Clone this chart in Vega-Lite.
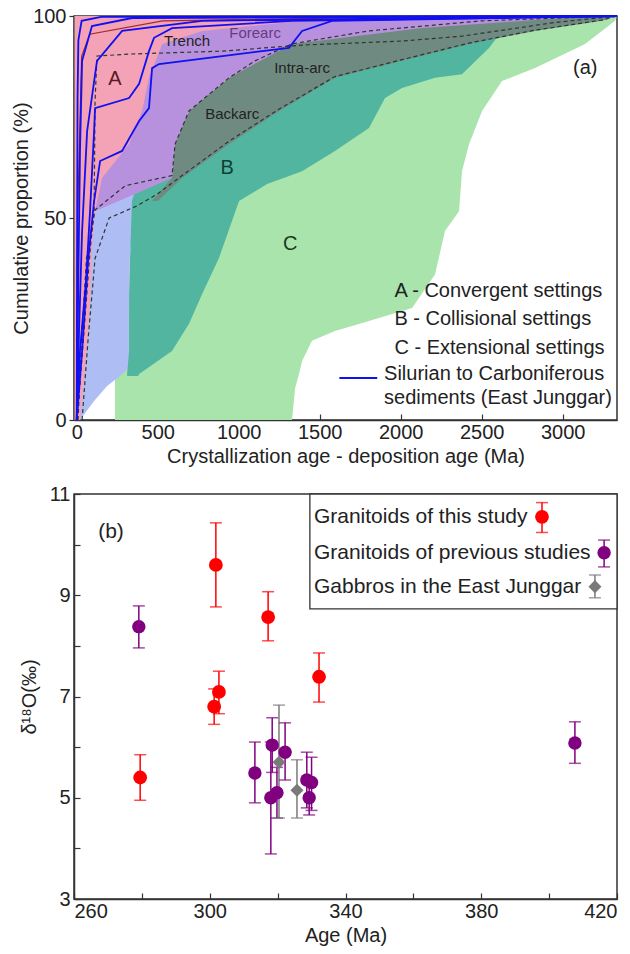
{
  "$schema": "https://vega.github.io/schema/vega-lite/v6.json",
  "padding": {"left": 10, "top": 5, "right": 0, "bottom": 5},
  "spacing": 16,
  "resolve": {"scale": {"color": "independent", "shape": "independent", "size": "independent"}},
  "config": {
    "font": "Liberation Sans",
    "view": {"stroke": "#333", "strokeWidth": 1.5},
    "axis": {"grid": false, "labelFontSize": 20, "titleFontSize": 20, "titleFontWeight": "normal", "labelColor": "#222", "titleColor": "#222", "domainColor": "#333", "tickColor": "#333", "domainWidth": 1.5, "tickWidth": 1.2}
  },
  "datasets": {
    "regC": [
      {"y": 0, "xl": 236, "xr": 1329}, {"y": 7.9, "xl": 236, "xr": 1348}, {"y": 11.4, "xl": 236, "xr": 1372},
      {"y": 14.6, "xl": 255, "xr": 1391}, {"y": 19.6, "xl": 280, "xr": 1452}, {"y": 22.0, "xl": 298, "xr": 1594},
      {"y": 24.5, "xl": 317, "xr": 1804}, {"y": 27.7, "xl": 329, "xr": 2070}, {"y": 36.1, "xl": 341, "xr": 2212},
      {"y": 46.8, "xl": 372, "xr": 2273}, {"y": 51.7, "xl": 403, "xr": 2360}, {"y": 61.6, "xl": 527, "xr": 2378},
      {"y": 68.3, "xl": 650, "xr": 2422}, {"y": 76.5, "xl": 897, "xr": 2502}, {"y": 83.9, "xl": 1391, "xr": 2625},
      {"y": 87.1, "xl": 1700, "xr": 2829}, {"y": 93.1, "xl": 2132, "xr": 3138}, {"y": 98.8, "xl": 2625, "xr": 3323},
      {"y": 100, "xl": 3243, "xr": 3335}
    ],
    "regL": [
      {"y": 0, "xl": -10, "xr": 20}, {"y": 4.7, "xl": 2, "xr": 107}, {"y": 8.4, "xl": 8, "xr": 187},
      {"y": 10.9, "xl": 14, "xr": 267}, {"y": 12.9, "xl": 14, "xr": 323}, {"y": 29.5, "xl": 33, "xr": 323},
      {"y": 41.8, "xl": 82, "xr": 329}, {"y": 54.2, "xl": 113, "xr": 372}, {"y": 59.9, "xl": 156, "xr": 465},
      {"y": 64.1, "xl": 218, "xr": 527}
    ],
    "regB": [
      {"y": 10.9, "xl": 311, "xr": 380}, {"y": 11.4, "xl": 311, "xr": 385}, {"y": 17.1, "xl": 323, "xr": 588},
      {"y": 23.8, "xl": 323, "xr": 693}, {"y": 31.2, "xl": 323, "xr": 774}, {"y": 40.1, "xl": 329, "xr": 878},
      {"y": 54.2, "xl": 341, "xr": 1002}, {"y": 58.4, "xl": 372, "xr": 1175}, {"y": 61.6, "xl": 434, "xr": 1391},
      {"y": 66.6, "xl": 527, "xr": 1594}, {"y": 72.3, "xl": 620, "xr": 1804}, {"y": 79.7, "xl": 774, "xr": 1903},
      {"y": 82.2, "xl": 866, "xr": 2008}, {"y": 84.7, "xl": 1020, "xr": 2212}, {"y": 85.6, "xl": 1144, "xr": 2378},
      {"y": 92.1, "xl": 1514, "xr": 2545}, {"y": 96.3, "xl": 2008, "xr": 2625}, {"y": 99.3, "xl": 2625, "xr": 2872},
      {"y": 100, "xl": 3243, "xr": 3335}
    ],
    "regG": [
      {"y": 54.2, "xl": 465, "xr": 500}, {"y": 59.9, "xl": 588, "xr": 650}, {"y": 68.3, "xl": 607, "xr": 940},
      {"y": 76.5, "xl": 693, "xr": 1250}, {"y": 84.7, "xl": 940, "xr": 1594}, {"y": 88.9, "xl": 1100, "xr": 2008},
      {"y": 93.1, "xl": 1329, "xr": 2422}, {"y": 96.3, "xl": 1800, "xr": 2829}, {"y": 98.8, "xl": 2500, "xr": 3243},
      {"y": 100, "xl": 3300, "xr": 3335}
    ],
    "regP": [
      {"y": 51.7, "xl": 100, "xr": 113}, {"y": 59.9, "xl": 150, "xr": 588}, {"y": 68.3, "xl": 300, "xr": 607},
      {"y": 76.5, "xl": 400, "xr": 693}, {"y": 84.7, "xl": 440, "xr": 940}, {"y": 93.1, "xl": 520, "xr": 1329},
      {"y": 97.0, "xl": 700, "xr": 2132}, {"y": 99.3, "xl": 1300, "xr": 2934}, {"y": 100, "xl": 3243, "xr": 3335}
    ],
    "regA": [
      {"y": 0, "xl": -14, "xr": 20}, {"y": 9.7, "xl": -14, "xr": 45}, {"y": 22, "xl": -14, "xr": 70},
      {"y": 29.5, "xl": -14, "xr": 82}, {"y": 41.8, "xl": -14, "xr": 94}, {"y": 51.7, "xl": -14, "xr": 113},
      {"y": 59.9, "xl": -14, "xr": 156}, {"y": 68.3, "xl": -14, "xr": 323}, {"y": 76.5, "xl": -14, "xr": 403},
      {"y": 84.7, "xl": -14, "xr": 446}, {"y": 93.1, "xl": -14, "xr": 527}, {"y": 96.3, "xl": -14, "xr": 774},
      {"y": 98.8, "xl": -14, "xr": 1391}, {"y": 100, "xl": -14, "xr": 3335}
    ],
    "lnA": [
      {"id": "b1", "kind": "blue", "x": 0, "y": 0}, {"id": "b1", "kind": "blue", "x": 2, "y": 40}, {"id": "b1", "kind": "blue", "x": 5, "y": 80}, {"id": "b1", "kind": "blue", "x": 10, "y": 94}, {"id": "b1", "kind": "blue", "x": 30, "y": 98.8}, {"id": "b1", "kind": "blue", "x": 150, "y": 99.8}, {"id": "b1", "kind": "blue", "x": 3335, "y": 100},
      {"id": "b2", "kind": "blue", "x": 0, "y": 0}, {"id": "b2", "kind": "blue", "x": 8, "y": 29.5}, {"id": "b2", "kind": "blue", "x": 20, "y": 66.6}, {"id": "b2", "kind": "blue", "x": 33, "y": 88.9}, {"id": "b2", "kind": "blue", "x": 94, "y": 97.5}, {"id": "b2", "kind": "blue", "x": 341, "y": 99.5}, {"id": "b2", "kind": "blue", "x": 3335, "y": 100},
      {"id": "b3", "kind": "blue", "x": 0, "y": 0}, {"id": "b3", "kind": "blue", "x": 14, "y": 22}, {"id": "b3", "kind": "blue", "x": 33, "y": 46.8}, {"id": "b3", "kind": "blue", "x": 64, "y": 71.5}, {"id": "b3", "kind": "blue", "x": 125, "y": 88.9}, {"id": "b3", "kind": "blue", "x": 280, "y": 96.3}, {"id": "b3", "kind": "blue", "x": 774, "y": 98.8}, {"id": "b3", "kind": "blue", "x": 3335, "y": 100},
      {"id": "b4", "kind": "blue", "x": 0, "y": 0}, {"id": "b4", "kind": "blue", "x": 20, "y": 17.1}, {"id": "b4", "kind": "blue", "x": 57, "y": 34.4}, {"id": "b4", "kind": "blue", "x": 82, "y": 51.7}, {"id": "b4", "kind": "blue", "x": 107, "y": 71.5}, {"id": "b4", "kind": "blue", "x": 113, "y": 77.2}, {"id": "b4", "kind": "blue", "x": 323, "y": 79.7}, {"id": "b4", "kind": "blue", "x": 385, "y": 83.2}, {"id": "b4", "kind": "blue", "x": 446, "y": 91.3}, {"id": "b4", "kind": "blue", "x": 477, "y": 94.6}, {"id": "b4", "kind": "blue", "x": 588, "y": 97}, {"id": "b4", "kind": "blue", "x": 1329, "y": 98.8}, {"id": "b4", "kind": "blue", "x": 3335, "y": 100},
      {"id": "b5", "kind": "blue", "x": 0, "y": 0}, {"id": "b5", "kind": "blue", "x": 33, "y": 17.1}, {"id": "b5", "kind": "blue", "x": 70, "y": 39.4}, {"id": "b5", "kind": "blue", "x": 107, "y": 54.2}, {"id": "b5", "kind": "blue", "x": 144, "y": 64.1}, {"id": "b5", "kind": "blue", "x": 280, "y": 66.6}, {"id": "b5", "kind": "blue", "x": 385, "y": 74}, {"id": "b5", "kind": "blue", "x": 446, "y": 77.2}, {"id": "b5", "kind": "blue", "x": 465, "y": 87.1}, {"id": "b5", "kind": "blue", "x": 508, "y": 88.1}, {"id": "b5", "kind": "blue", "x": 1144, "y": 91.3}, {"id": "b5", "kind": "blue", "x": 1310, "y": 92.1}, {"id": "b5", "kind": "blue", "x": 1391, "y": 96.3}, {"id": "b5", "kind": "blue", "x": 1576, "y": 98.8}, {"id": "b5", "kind": "blue", "x": 3335, "y": 100},
      {"id": "leg", "kind": "blue", "x": 1621, "y": 10.4}, {"id": "leg", "kind": "blue", "x": 1855, "y": 10.4},
      {"id": "r1", "kind": "red", "x": 0, "y": 0}, {"id": "r1", "kind": "red", "x": 5, "y": 50}, {"id": "r1", "kind": "red", "x": 30, "y": 90}, {"id": "r1", "kind": "red", "x": 80, "y": 95.5}, {"id": "r1", "kind": "red", "x": 530, "y": 98.8}, {"id": "r1", "kind": "red", "x": 1640, "y": 99.5}, {"id": "r1", "kind": "red", "x": 3335, "y": 100},
      {"id": "d1", "kind": "dash", "x": 2, "y": 0}, {"id": "d1", "kind": "dash", "x": 45, "y": 22}, {"id": "d1", "kind": "dash", "x": 82, "y": 41.8}, {"id": "d1", "kind": "dash", "x": 107, "y": 51.7}, {"id": "d1", "kind": "dash", "x": 113, "y": 79}, {"id": "d1", "kind": "dash", "x": 125, "y": 90.1}, {"id": "d1", "kind": "dash", "x": 341, "y": 90.6}, {"id": "d1", "kind": "dash", "x": 897, "y": 91.3}, {"id": "d1", "kind": "dash", "x": 1391, "y": 92.8}, {"id": "d1", "kind": "dash", "x": 2008, "y": 93.8}, {"id": "d1", "kind": "dash", "x": 2378, "y": 95}, {"id": "d1", "kind": "dash", "x": 2934, "y": 98.3}, {"id": "d1", "kind": "dash", "x": 3335, "y": 100},
      {"id": "d2", "kind": "dash", "x": 33, "y": 0}, {"id": "d2", "kind": "dash", "x": 70, "y": 20}, {"id": "d2", "kind": "dash", "x": 113, "y": 40}, {"id": "d2", "kind": "dash", "x": 200, "y": 50}, {"id": "d2", "kind": "dash", "x": 372, "y": 53}, {"id": "d2", "kind": "dash", "x": 500, "y": 56}, {"id": "d2", "kind": "dash", "x": 650, "y": 60.5}, {"id": "d2", "kind": "dash", "x": 940, "y": 69}, {"id": "d2", "kind": "dash", "x": 1250, "y": 77}, {"id": "d2", "kind": "dash", "x": 1594, "y": 85}, {"id": "d2", "kind": "dash", "x": 2008, "y": 89.2}, {"id": "d2", "kind": "dash", "x": 2422, "y": 93.3}, {"id": "d2", "kind": "dash", "x": 2829, "y": 96.5}, {"id": "d2", "kind": "dash", "x": 3243, "y": 99}, {"id": "d2", "kind": "dash", "x": 3335, "y": 100},
      {"id": "d3", "kind": "dash", "x": 8, "y": 0}, {"id": "d3", "kind": "dash", "x": 30, "y": 20}, {"id": "d3", "kind": "dash", "x": 60, "y": 40}, {"id": "d3", "kind": "dash", "x": 113, "y": 52}, {"id": "d3", "kind": "dash", "x": 300, "y": 58}, {"id": "d3", "kind": "dash", "x": 588, "y": 60.5}, {"id": "d3", "kind": "dash", "x": 607, "y": 68.3}, {"id": "d3", "kind": "dash", "x": 693, "y": 76.5}, {"id": "d3", "kind": "dash", "x": 940, "y": 84.7}, {"id": "d3", "kind": "dash", "x": 1100, "y": 88.9}, {"id": "d3", "kind": "dash", "x": 1329, "y": 93.1}, {"id": "d3", "kind": "dash", "x": 1800, "y": 96.3}, {"id": "d3", "kind": "dash", "x": 2500, "y": 98.8}, {"id": "d3", "kind": "dash", "x": 3335, "y": 100}
    ],
    "txA": [
      {"g": "big", "c": "A", "x": 236, "y": 84.4, "t": "A"},
      {"g": "big", "c": "B", "x": 929, "y": 62.4, "t": "B"},
      {"g": "big", "c": "C", "x": 1317, "y": 43.6, "t": "C"},
      {"g": "big", "c": "N", "x": 3139, "y": 87.1, "t": "(a)"},
      {"g": "small", "c": "N", "x": 681, "y": 93.8, "t": "Trench"},
      {"g": "small", "c": "F", "x": 1101, "y": 95.8, "t": "Forearc"},
      {"g": "small", "c": "N", "x": 1391, "y": 87.1, "t": "Intra-arc"},
      {"g": "small", "c": "N", "x": 960, "y": 75.7, "t": "Backarc"},
      {"g": "leg", "c": "N", "x": 1961, "y": 31.9, "t": "A - Convergent settings"},
      {"g": "leg", "c": "N", "x": 1961, "y": 25.0, "t": "B - Collisional settings"},
      {"g": "leg", "c": "N", "x": 1961, "y": 17.8, "t": "C - Extensional settings"},
      {"g": "leg", "c": "N", "x": 1897, "y": 11.4, "t": "Silurian to Carboniferous"},
      {"g": "leg", "c": "N", "x": 1897, "y": 5.4, "t": "sediments (East Junggar)"}
    ],
    "pts": [
      {"grp": "this", "age": 279.5, "d": 5.4, "lo": 4.95, "hi": 5.85},
      {"grp": "this", "age": 301.8, "d": 9.6, "lo": 8.77, "hi": 10.43},
      {"grp": "this", "age": 317.2, "d": 8.57, "lo": 8.1, "hi": 9.07},
      {"grp": "this", "age": 302.7, "d": 7.09, "lo": 6.66, "hi": 7.5},
      {"grp": "this", "age": 301.3, "d": 6.8, "lo": 6.45, "hi": 7.15},
      {"grp": "this", "age": 332.2, "d": 7.39, "lo": 6.89, "hi": 7.86},
      {"grp": "prev", "age": 279.1, "d": 8.38, "lo": 7.96, "hi": 8.79},
      {"grp": "prev", "age": 407.6, "d": 6.08, "lo": 5.68, "hi": 6.5},
      {"grp": "prev", "age": 313.3, "d": 5.49, "lo": 4.9, "hi": 6.1},
      {"grp": "prev", "age": 318.4, "d": 6.04, "lo": 5.5, "hi": 6.58},
      {"grp": "prev", "age": 318.0, "d": 5.0, "lo": 3.89, "hi": 6.1},
      {"grp": "prev", "age": 322.2, "d": 5.9, "lo": 5.35, "hi": 6.48},
      {"grp": "prev", "age": 319.8, "d": 5.1, "lo": 4.6, "hi": 5.6},
      {"grp": "prev", "age": 328.6, "d": 5.35, "lo": 4.8, "hi": 5.9},
      {"grp": "prev", "age": 330.0, "d": 5.3, "lo": 4.75, "hi": 5.8},
      {"grp": "prev", "age": 329.3, "d": 5.0, "lo": 4.66, "hi": 5.4},
      {"grp": "gabbro", "age": 320.4, "d": 5.7, "lo": 4.6, "hi": 6.83},
      {"grp": "gabbro", "age": 325.7, "d": 5.15, "lo": 4.6, "hi": 5.75},
      {"grp": "this", "age": 397.9, "d": 10.55, "lo": 10.24, "hi": 10.83},
      {"grp": "prev", "age": 416.2, "d": 9.84, "lo": 9.56, "hi": 10.09},
      {"grp": "gabbro", "age": 413.5, "d": 9.17, "lo": 8.95, "hi": 9.4}
    ],
    "boxB": [{"x": 329.5, "x2": 420, "y": 8.73, "y2": 11}],
    "txB": [
      {"g": "leg", "age": 330.7, "d": 10.55, "t": "Granitoids of this study"},
      {"g": "leg", "age": 330.7, "d": 9.84, "t": "Granitoids of previous studies"},
      {"g": "leg", "age": 330.7, "d": 9.17, "t": "Gabbros in the East Junggar"},
      {"g": "tag", "age": 270.9, "d": 10.25, "t": "(b)"}
    ]
  },
  "vconcat": [
    {
      "width": 543,
      "height": 404,
      "layer": [
        {
          "data": {"name": "regC"},
          "mark": {"type": "area", "orient": "horizontal", "color": "#a9e4ad"},
          "encoding": {
            "y": {"field": "y", "type": "quantitative", "scale": {"domain": [0, 100], "nice": false}, "axis": {"title": "Cumulative proportion (%)", "values": [0, 50, 100], "tickSize": 5, "labelPadding": 3, "titlePadding": 1}},
            "x": {"field": "xl", "type": "quantitative", "scale": {"domain": [-17, 3335], "nice": false}, "axis": {"title": "Crystallization age - deposition age (Ma)", "values": [0, 500, 1000, 1500, 2000, 2500, 3000], "format": "d", "tickSize": -6, "labelPadding": 8, "titlePadding": 4}},
            "x2": {"field": "xr"}
          }
        },
        {"data": {"name": "regL"}, "mark": {"type": "area", "orient": "horizontal", "color": "#aebdf4"},
          "encoding": {"y": {"field": "y", "type": "quantitative"}, "x": {"field": "xl", "type": "quantitative"}, "x2": {"field": "xr"}}},
        {"data": {"name": "regB"}, "mark": {"type": "area", "orient": "horizontal", "color": "#52b59f"},
          "encoding": {"y": {"field": "y", "type": "quantitative"}, "x": {"field": "xl", "type": "quantitative"}, "x2": {"field": "xr"}}},
        {"data": {"name": "regG"}, "mark": {"type": "area", "orient": "horizontal", "color": "#6f8a80"},
          "encoding": {"y": {"field": "y", "type": "quantitative"}, "x": {"field": "xl", "type": "quantitative"}, "x2": {"field": "xr"}}},
        {"data": {"name": "regP"}, "mark": {"type": "area", "orient": "horizontal", "color": "#b891de"},
          "encoding": {"y": {"field": "y", "type": "quantitative"}, "x": {"field": "xl", "type": "quantitative"}, "x2": {"field": "xr"}}},
        {"data": {"name": "regA"}, "mark": {"type": "area", "orient": "horizontal", "color": "#f3a3b5"},
          "encoding": {"y": {"field": "y", "type": "quantitative"}, "x": {"field": "xl", "type": "quantitative"}, "x2": {"field": "xr"}}},
        {"data": {"name": "lnA"}, "transform": [{"filter": "datum.kind == 'dash'"}],
          "mark": {"type": "line", "color": "#333", "strokeWidth": 1.2, "strokeDash": [4, 3]},
          "encoding": {"x": {"field": "x", "type": "quantitative"}, "y": {"field": "y", "type": "quantitative"}, "detail": {"field": "id"}}},
        {"data": {"name": "lnA"}, "transform": [{"filter": "datum.kind == 'red'"}],
          "mark": {"type": "line", "color": "#a52a2a", "strokeWidth": 1.2},
          "encoding": {"x": {"field": "x", "type": "quantitative"}, "y": {"field": "y", "type": "quantitative"}, "detail": {"field": "id"}}},
        {"data": {"name": "lnA"}, "transform": [{"filter": "datum.kind == 'blue'"}],
          "mark": {"type": "line", "color": "#1010f0", "strokeWidth": 1.8},
          "encoding": {"x": {"field": "x", "type": "quantitative"}, "y": {"field": "y", "type": "quantitative"}, "detail": {"field": "id"}}},
        {"data": {"name": "txA"}, "transform": [{"filter": "datum.g == 'big'"}],
          "mark": {"type": "text", "fontSize": 20},
          "encoding": {"x": {"field": "x", "type": "quantitative"}, "y": {"field": "y", "type": "quantitative"}, "text": {"field": "t"},
            "color": {"field": "c", "type": "nominal", "scale": {"domain": ["A", "B", "C", "N", "F"], "range": ["#5a1a1f", "#0f3f35", "#1a3a1a", "#222222", "#6a3a80"]}, "legend": null}}},
        {"data": {"name": "txA"}, "transform": [{"filter": "datum.g == 'small'"}],
          "mark": {"type": "text", "fontSize": 15},
          "encoding": {"x": {"field": "x", "type": "quantitative"}, "y": {"field": "y", "type": "quantitative"}, "text": {"field": "t"},
            "color": {"field": "c", "type": "nominal", "legend": null}}},
        {"data": {"name": "txA"}, "transform": [{"filter": "datum.g == 'leg'"}],
          "mark": {"type": "text", "fontSize": 20, "align": "left", "color": "#222"},
          "encoding": {"x": {"field": "x", "type": "quantitative"}, "y": {"field": "y", "type": "quantitative"}, "text": {"field": "t"}}}
      ]
    },
    {
      "width": 543,
      "height": 405,
      "layer": [
        {
          "data": {"name": "boxB"},
          "mark": {"type": "rect", "fill": "white", "stroke": "#333", "strokeWidth": 1.3},
          "encoding": {
            "x": {"field": "x", "type": "quantitative", "scale": {"domain": [260, 420], "nice": false}, "axis": {"title": "Age (Ma)", "values": [260, 280, 300, 320, 340, 360, 380, 400, 420], "labelExpr": "(datum.value - 260) % 40 == 0 ? datum.label : ''", "tickSize": -6, "labelPadding": 8, "titlePadding": 4}},
            "x2": {"field": "x2"},
            "y": {"field": "y", "type": "quantitative", "scale": {"domain": [3, 11], "nice": false}, "axis": {"title": "δ¹⁸O(‰)", "values": [3, 4, 5, 6, 7, 8, 9, 10, 11], "labelExpr": "datum.value % 2 == 1 ? datum.label : ''", "tickSize": -6, "labelPadding": 10, "titlePadding": 10}},
            "y2": {"field": "y2"}
          }
        },
        {"data": {"name": "pts"}, "mark": {"type": "rule", "strokeWidth": 1.5},
          "encoding": {"x": {"field": "age", "type": "quantitative"}, "y": {"field": "lo", "type": "quantitative"}, "y2": {"field": "hi"},
            "color": {"field": "grp", "type": "nominal", "scale": {"domain": ["this", "prev", "gabbro"], "range": ["#ff0000", "#800080", "#7a7a7a"]}, "legend": null}}},
        {"data": {"name": "pts"}, "mark": {"type": "tick", "orient": "horizontal", "size": 12, "thickness": 1.5},
          "encoding": {"x": {"field": "age", "type": "quantitative"}, "y": {"field": "lo", "type": "quantitative"},
            "color": {"field": "grp", "type": "nominal", "legend": null}}},
        {"data": {"name": "pts"}, "mark": {"type": "tick", "orient": "horizontal", "size": 12, "thickness": 1.5},
          "encoding": {"x": {"field": "age", "type": "quantitative"}, "y": {"field": "hi", "type": "quantitative"},
            "color": {"field": "grp", "type": "nominal", "legend": null}}},
        {"data": {"name": "pts"}, "mark": {"type": "point", "filled": true, "opacity": 1},
          "encoding": {"x": {"field": "age", "type": "quantitative"}, "y": {"field": "d", "type": "quantitative"},
            "color": {"field": "grp", "type": "nominal", "legend": null},
            "shape": {"field": "grp", "type": "nominal", "scale": {"domain": ["this", "prev", "gabbro"], "range": ["circle", "circle", "diamond"]}, "legend": null},
            "size": {"field": "grp", "type": "nominal", "scale": {"domain": ["this", "prev", "gabbro"], "range": [190, 170, 340]}, "legend": null}}},
        {"data": {"name": "txB"}, "transform": [{"filter": "datum.g == 'leg'"}],
          "mark": {"type": "text", "fontSize": 21, "align": "left", "color": "#222"},
          "encoding": {"x": {"field": "age", "type": "quantitative"}, "y": {"field": "d", "type": "quantitative"}, "text": {"field": "t"}}},
        {"data": {"name": "txB"}, "transform": [{"filter": "datum.g == 'tag'"}],
          "mark": {"type": "text", "fontSize": 21, "color": "#222"},
          "encoding": {"x": {"field": "age", "type": "quantitative"}, "y": {"field": "d", "type": "quantitative"}, "text": {"field": "t"}}}
      ]
    }
  ]
}
